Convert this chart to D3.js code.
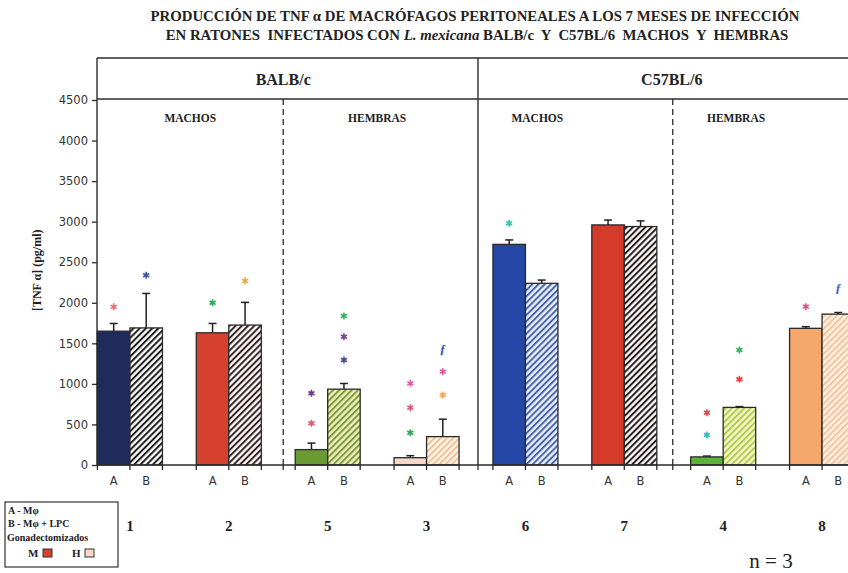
<!DOCTYPE html>
<html>
<head>
<meta charset="utf-8">
<script src="https://cdn.jsdelivr.net/npm/d3@7"></script>
<style>
  html, body { margin: 0; padding: 0; background: #fff; }
  svg { display: block; }
  .pre { white-space: pre; }
</style>
</head>
<body>
<svg id="chart" width="848" height="573"></svg>
<script>
// Groups of mice (numbered as in the study) and TNF-α values per condition
const groups = ["1", "2", "5", "3", "6", "7", "4", "8"];
const conditions = ["A", "B"];                      // A - Mφ, B - Mφ + LPC
const valuesA = [1650, 1630, 190, 90, 2720, 2960, 100, 1685];
const errA    = [95, 115, 80, 25, 55, 60, 10, 20];
const valuesB = [1690, 1725, 935, 350, 2240, 2940, 710, 1860];
const errB    = [425, 280, 70, 215, 40, 70, 10, 20];
const yTicks  = [0, 500, 1000, 1500, 2000, 2500, 3000, 3500, 4000, 4500];

const strains = ["BALB/c", "C57BL/6"];
const sexes   = ["MACHOS", "HEMBRAS"];

// Solid fill for condition A, stripe / background colours for condition B
const colorsA   = ["#1f2b5a", "#d5402f", "#6b9a32", "#f6d7c8", "#2547a6", "#d43b2b", "#5db23c", "#f6a86c"];
const stripeB   = ["#1e1e1e", "#3a2222", "#7e9b32", "#f4bf8e", "#4564b0", "#2a1c1c", "#b4cc44", "#f4c49a"];
const stripeBg  = ["#ffffff", "#ffffff", "#eef1c6", "#fff6ee", "#eef2fa", "#ffffff", "#f3f6d2", "#fdf0e4"];

// Significance marks drawn above bars: group, condition, level (pg/ml), colour, symbol
const markGroup = ["1", "1", "2", "2", "5", "5", "5", "5", "5", "3", "3", "3", "3", "3", "3", "6", "4", "4", "4", "4", "8", "8"];
const markCond  = ["A", "B", "A", "B", "A", "A", "B", "B", "B", "A", "A", "A", "B", "B", "B", "A", "A", "A", "B", "B", "A", "B"];
const markLevel = [1950, 2340, 2000, 2270, 884, 514, 1837, 1582, 1295, 1007, 707, 398, 1426, 1151, 863, 2980, 645, 370, 1418, 1057, 1952, 2179];
const markColor = ["#e56a74", "#3a55a8", "#2fa65a", "#f0a842", "#6d3b8e", "#e0586a", "#35b25a", "#7b3f8c", "#4a4a98",
                   "#e455a4", "#d9587e", "#2fa65a", "#3555b4", "#e0579a", "#f2a85a", "#35c3b4",
                   "#e2434f", "#35b8b4", "#35b25a", "#e2433f", "#e24a86", "#4264c4"];
const markKind  = ["*", "*", "*", "*", "*", "*", "*", "*", "*", "*", "*", "*", "f", "*", "*", "*", "*", "*", "*", "*", "*", "f"];

const svg = d3.select("#chart");
const serif = "'Liberation Serif', 'Times New Roman', serif";
const sans = "'DejaVu Sans', Verdana, sans-serif";
const ink = "#2b2b2b";

// Scales
const y = d3.scaleLinear().domain([0, 4500]).range([465, 100]);
const x = d3.scaleBand().domain(groups).range([80.5, 871.5]);
const barW = 32.5;
const xs = d3.scaleBand().domain(conditions).range([0, 2 * barW]);
const center = g => x(g) + x.bandwidth() / 2;
const barX = (g, c) => center(g) - barW + xs(c);
const unit = u => x.range()[0] + u * x.step();   // position in band units

const axisLeftX = 97, frameTop = 58, headerY = y(4500) - 1, baseY = y(0);

// Hatch patterns for condition B
const defs = svg.append("defs");
groups.forEach((g, i) => {
  const p = defs.append("pattern")
    .attr("id", "hatch" + i)
    .attr("patternUnits", "userSpaceOnUse")
    .attr("width", 4.4).attr("height", 4.4)
    .attr("patternTransform", "rotate(45)");
  p.append("rect").attr("width", 4.4).attr("height", 4.4).attr("fill", stripeBg[i]);
  p.append("line").attr("x1", 1).attr("y1", 0).attr("x2", 1).attr("y2", 4.4)
    .attr("stroke", stripeB[i]).attr("stroke-width", 2);
});

// Title
const title = svg.append("g").attr("font-family", serif).attr("font-weight", "bold")
  .attr("font-size", 14.8).attr("fill", "#222").attr("text-anchor", "middle");
title.append("text").attr("class", "pre").attr("x", 475).attr("y", 21)
  .text("PRODUCCIÓN DE TNF α DE MACRÓFAGOS PERITONEALES A LOS 7 MESES DE INFECCIÓN");
const t2 = title.append("text").attr("class", "pre").attr("x", 477).attr("y", 40);
t2.append("tspan").text("EN RATONES  INFECTADOS CON ");
t2.append("tspan").attr("font-style", "italic").text("L. mexicana");
t2.append("tspan").text(" BALB/c  Y  C57BL/6  MACHOS  Y  HEMBRAS");

// Frame and header band
const frame = svg.append("g").attr("stroke", ink).attr("stroke-width", 1.4).attr("fill", "none");
frame.append("line").attr("x1", axisLeftX).attr("x2", 848).attr("y1", frameTop).attr("y2", frameTop);
frame.append("line").attr("x1", axisLeftX).attr("x2", 848).attr("y1", headerY).attr("y2", headerY);
frame.append("line").attr("x1", axisLeftX).attr("x2", axisLeftX).attr("y1", frameTop).attr("y2", baseY);
frame.append("line").attr("x1", unit(4.02)).attr("x2", unit(4.02)).attr("y1", frameTop).attr("y2", baseY);
[2.05, 5.99].forEach(u => {
  frame.append("line").attr("x1", unit(u)).attr("x2", unit(u)).attr("y1", headerY).attr("y2", baseY)
    .attr("stroke-dasharray", "6,4").attr("stroke-width", 1.3);
});

// Strain and sex headings
const strainPos = [2.05, 5.98];
strains.forEach((s, i) => {
  svg.append("text").attr("x", unit(strainPos[i])).attr("y", 85)
    .attr("text-anchor", "middle").attr("font-family", serif).attr("font-weight", "bold")
    .attr("font-size", 16).attr("fill", "#222").text(s);
});
const sexPos = [1.11, 3.0, 4.62, 6.63];
sexPos.forEach((u, i) => {
  svg.append("text").attr("x", unit(u)).attr("y", 122)
    .attr("text-anchor", "middle").attr("font-family", serif).attr("font-weight", "bold")
    .attr("font-size", 11.5).attr("fill", "#222").text(sexes[i % 2]);
});

// Y axis
const yAxis = svg.append("g").attr("transform", `translate(${axisLeftX},0)`)
  .call(d3.axisLeft(y).tickValues(yTicks).tickFormat(d3.format("d"))
    .tickSize(5).tickPadding(4).tickSizeOuter(0));
yAxis.select(".domain").remove();
yAxis.selectAll(".tick line").attr("stroke", ink).attr("stroke-width", 1.3);
yAxis.selectAll(".tick text").attr("font-family", sans).attr("font-size", 11.5).attr("fill", "#333");

svg.append("text")
  .attr("transform", `translate(41,${y(2400)}) rotate(-90)`)
  .attr("text-anchor", "middle").attr("font-family", serif).attr("font-weight", "bold")
  .attr("font-size", 12).attr("fill", "#222").text("[TNF α] (pg/ml)");

// Bars
const bars = [];
groups.forEach((g, i) => {
  bars.push({ g, c: "A", v: valuesA[i], e: errA[i], fill: colorsA[i] });
  bars.push({ g, c: "B", v: valuesB[i], e: errB[i], fill: `url(#hatch${i})` });
});

// Error bars (upper whisker only)
const err = svg.append("g").attr("stroke", "#222").attr("stroke-width", 1.5);
bars.forEach(d => {
  const cx = barX(d.g, d.c) + barW / 2;
  err.append("line").attr("x1", cx).attr("x2", cx).attr("y1", y(d.v)).attr("y2", y(d.v + d.e));
  err.append("line").attr("x1", cx - 4).attr("x2", cx + 4).attr("y1", y(d.v + d.e)).attr("y2", y(d.v + d.e));
});

svg.append("g").selectAll("rect").data(bars).join("rect")
  .attr("x", d => barX(d.g, d.c))
  .attr("y", d => y(d.v))
  .attr("width", barW)
  .attr("height", d => y(0) - y(d.v))
  .attr("fill", d => d.fill)
  .attr("stroke", "#2a2a2a").attr("stroke-width", 1.3);

// X axis: baseline and ticks at bar edges and dividers
svg.append("line").attr("x1", axisLeftX).attr("x2", 848).attr("y1", baseY).attr("y2", baseY)
  .attr("stroke", ink).attr("stroke-width", 1.4);
const tickXs = [];
groups.forEach(g => { tickXs.push(center(g) - barW, center(g), center(g) + barW); });
[2.05, 4.02, 5.99].forEach(u => tickXs.push(unit(u)));
svg.append("g").selectAll("line").data(tickXs.filter(v => v <= 848)).join("line")
  .attr("x1", d => d).attr("x2", d => d).attr("y1", baseY).attr("y2", baseY + 5)
  .attr("stroke", ink).attr("stroke-width", 1.3);

// Condition letters and group numbers
bars.forEach(d => {
  svg.append("text").attr("x", barX(d.g, d.c) + barW / 2).attr("y", 485)
    .attr("text-anchor", "middle").attr("font-family", sans).attr("font-size", 11.5)
    .attr("fill", "#333").text(d.c);
});
groups.forEach(g => {
  svg.append("text").attr("x", center(g)).attr("y", 531)
    .attr("text-anchor", "middle").attr("font-family", serif).attr("font-weight", "bold")
    .attr("font-size", 15).attr("fill", "#222").text(g);
});

// Significance marks
const asterisk = d3.symbolAsterisk || d3.symbolCross;
markLevel.forEach((v, i) => {
  const cx = barX(markGroup[i], markCond[i]) + barW / 2;
  if (markKind[i] === "f") {
    svg.append("text").attr("x", cx).attr("y", y(v) + 4)
      .attr("text-anchor", "middle").attr("font-family", serif).attr("font-style", "italic")
      .attr("font-weight", "bold").attr("font-size", 13).attr("fill", markColor[i]).text("ƒ");
  } else {
    svg.append("path").attr("transform", `translate(${cx},${y(v)})`)
      .attr("d", d3.symbol(asterisk, 34)())
      .attr("fill", "none").attr("stroke", markColor[i]).attr("stroke-width", 1.6);
  }
});

// Legend box
const lg = svg.append("g").attr("font-family", serif).attr("font-weight", "bold").attr("fill", "#222");
lg.append("rect").attr("x", 5).attr("y", 502).attr("width", 113).attr("height", 65)
  .attr("fill", "#fff").attr("stroke", "#333").attr("stroke-width", 1.2);
lg.append("text").attr("x", 8).attr("y", 514).attr("font-size", 10).text("A - Mφ");
lg.append("text").attr("x", 8).attr("y", 527).attr("font-size", 10).text("B - Mφ + LPC");
lg.append("text").attr("x", 7).attr("y", 541).attr("font-size", 10).text("Gonadectomizados");
lg.append("text").attr("x", 28).attr("y", 557).attr("font-size", 11).text("M");
lg.append("rect").attr("x", 43).attr("y", 549).attr("width", 9).attr("height", 8)
  .attr("fill", colorsA[1]).attr("stroke", "#333").attr("stroke-width", 1);
lg.append("text").attr("x", 72).attr("y", 557).attr("font-size", 11).text("H");
lg.append("rect").attr("x", 85).attr("y", 549).attr("width", 9).attr("height", 8)
  .attr("fill", colorsA[3]).attr("stroke", "#333").attr("stroke-width", 1);

// Sample size
svg.append("text").attr("x", 771).attr("y", 568).attr("text-anchor", "middle")
  .attr("font-family", serif).attr("font-size", 21).attr("fill", "#222").text("n = 3");
</script>
</body>
</html>
